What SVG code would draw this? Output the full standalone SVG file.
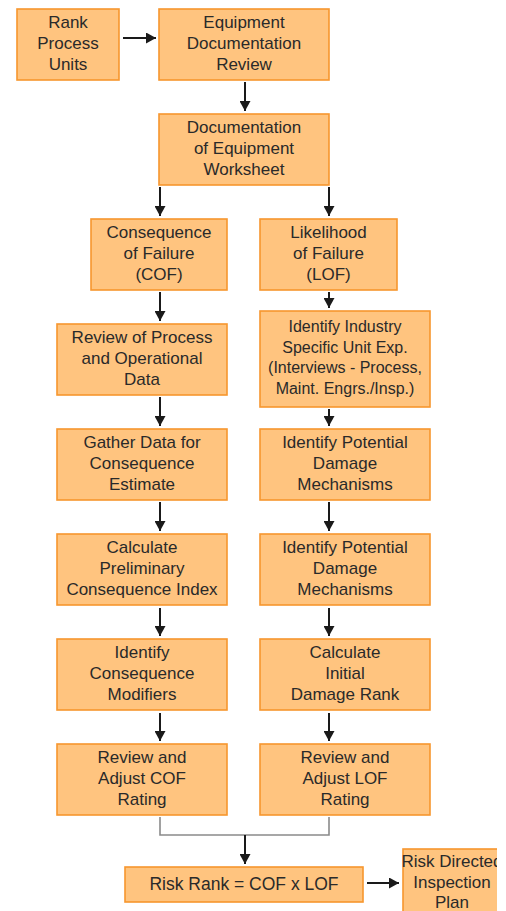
<svg xmlns="http://www.w3.org/2000/svg" width="506" height="911" viewBox="0 0 506 911">
<style>
.box{fill:#FFC47F;stroke:#F7962E;stroke-width:1.6}
text{font-family:"Liberation Sans",Arial,sans-serif;font-size:17px;fill:#2a2a2a;text-anchor:middle}
.sm{font-size:16px}
.arr{stroke:#1a1a1a;stroke-width:2;fill:none;marker-end:url(#ah)}
.br{stroke:#8a8a8a;stroke-width:1.6;fill:none}
</style>
<defs>
<marker id="ah" markerUnits="userSpaceOnUse" markerWidth="11" markerHeight="11" refX="10" refY="5.5" orient="auto">
<path d="M0,0 L10,5.5 L0,11 z" fill="#1a1a1a"/>
</marker>
<clipPath id="clipR"><rect x="0" y="0" width="497" height="911"/></clipPath>
</defs>
<rect width="506" height="911" fill="#fff"/>
<g id="n1"><rect class="box" x="17" y="9" width="102" height="71"/><text x="68" y="28">Rank</text><text x="68" y="49">Process</text><text x="68" y="70">Units</text></g>
<g id="n2"><rect class="box" x="159" y="9" width="170" height="71"/><text x="244" y="28">Equipment</text><text x="244" y="49">Documentation</text><text x="244" y="70">Review</text></g>
<g id="n3"><rect class="box" x="159" y="114" width="170" height="71"/><text x="244" y="133">Documentation</text><text x="244" y="154">of Equipment</text><text x="244" y="175">Worksheet</text></g>
<g id="n4"><rect class="box" x="91" y="219" width="136" height="71"/><text x="159" y="238">Consequence</text><text x="159" y="259">of Failure</text><text x="159" y="280">(COF)</text></g>
<g id="n5"><rect class="box" x="260" y="219" width="137" height="71"/><text x="328.5" y="238">Likelihood</text><text x="328.5" y="259">of Failure</text><text x="328.5" y="280">(LOF)</text></g>
<g id="n6"><rect class="box" x="57" y="324" width="170" height="71"/><text x="142" y="343">Review of Process</text><text x="142" y="364">and Operational</text><text x="142" y="385">Data</text></g>
<g id="n7"><rect class="box" x="260" y="311" width="170" height="96"/><text class="sm" x="345" y="332">Identify Industry</text><text class="sm" x="345" y="352.5">Specific Unit Exp.</text><text class="sm" x="345" y="373">(Interviews - Process,</text><text class="sm" x="345" y="393.5">Maint. Engrs./Insp.)</text></g>
<g id="n8"><rect class="box" x="57" y="429" width="170" height="71"/><text x="142" y="448">Gather Data for</text><text x="142" y="469">Consequence</text><text x="142" y="490">Estimate</text></g>
<g id="n9"><rect class="box" x="260" y="429" width="170" height="71"/><text x="345" y="448">Identify Potential</text><text x="345" y="469">Damage</text><text x="345" y="490">Mechanisms</text></g>
<g id="n10"><rect class="box" x="57" y="534" width="170" height="71"/><text x="142" y="553">Calculate</text><text x="142" y="574">Preliminary</text><text x="142" y="595">Consequence Index</text></g>
<g id="n11"><rect class="box" x="260" y="534" width="170" height="71"/><text x="345" y="553">Identify Potential</text><text x="345" y="574">Damage</text><text x="345" y="595">Mechanisms</text></g>
<g id="n12"><rect class="box" x="57" y="639" width="170" height="71"/><text x="142" y="658">Identify</text><text x="142" y="679">Consequence</text><text x="142" y="700">Modifiers</text></g>
<g id="n13"><rect class="box" x="260" y="639" width="170" height="71"/><text x="345" y="658">Calculate</text><text x="345" y="679">Initial</text><text x="345" y="700">Damage Rank</text></g>
<g id="n14"><rect class="box" x="57" y="744" width="170" height="71"/><text x="142" y="763">Review and</text><text x="142" y="784">Adjust COF</text><text x="142" y="805">Rating</text></g>
<g id="n15"><rect class="box" x="260" y="744" width="170" height="71"/><text x="345" y="763">Review and</text><text x="345" y="784">Adjust LOF</text><text x="345" y="805">Rating</text></g>
<g id="n16"><rect class="box" x="125" y="867" width="238" height="35"/><text x="244" y="890" style="font-size:17.5px">Risk Rank = COF x LOF</text></g>
<g id="n17" clip-path="url(#clipR)"><rect class="box" x="403" y="849" width="100" height="70"/><text x="452" y="867">Risk Directed</text><text x="452" y="888">Inspection</text><text x="452" y="908">Plan</text></g>
<g id="connectors">
<line class="arr" x1="123" y1="38" x2="156" y2="38"/>
<line class="arr" x1="245" y1="82" x2="245" y2="111"/>
<line class="arr" x1="160" y1="187" x2="160" y2="216"/>
<line class="arr" x1="329" y1="187" x2="329" y2="216"/>
<line class="arr" x1="160" y1="292" x2="160" y2="321"/>
<line class="arr" x1="329" y1="292" x2="329" y2="308"/>
<line class="arr" x1="160" y1="397" x2="160" y2="426"/>
<line class="arr" x1="329" y1="409" x2="329" y2="426"/>
<line class="arr" x1="160" y1="502" x2="160" y2="531"/>
<line class="arr" x1="329" y1="502" x2="329" y2="531"/>
<line class="arr" x1="160" y1="608" x2="160" y2="636"/>
<line class="arr" x1="329" y1="608" x2="329" y2="636"/>
<line class="arr" x1="160" y1="713" x2="160" y2="741"/>
<line class="arr" x1="329" y1="713" x2="329" y2="741"/>
<path class="br" d="M160,817 V835 H329 V817"/>
<line class="arr" x1="245" y1="835" x2="245" y2="864"/>
<line class="arr" x1="367" y1="883" x2="399" y2="883"/>
</g>
</svg>
